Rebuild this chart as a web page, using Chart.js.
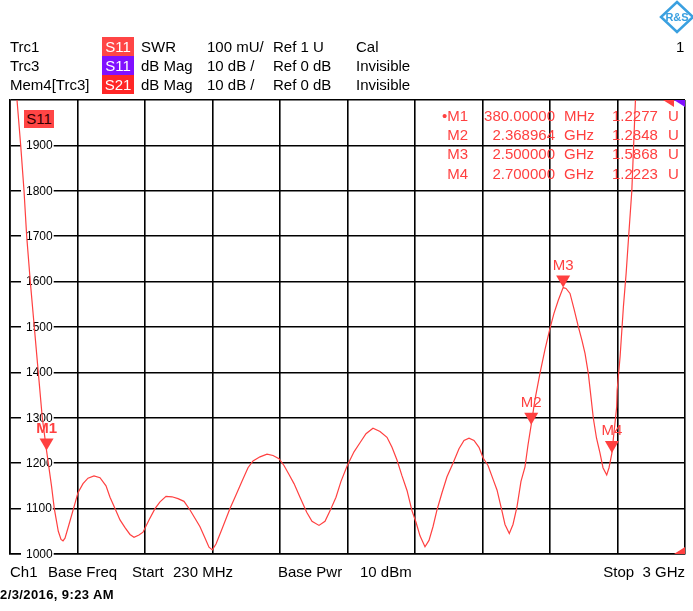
<!DOCTYPE html>
<html>
<head>
<meta charset="utf-8">
<script src="https://cdn.jsdelivr.net/npm/chart.js@4.4.1/dist/chart.umd.min.js"></script>
<style>
  body { margin: 0; background: #fff; }
  #wrap { position: relative; width: 693px; height: 611px; overflow: hidden;
          font-family: "Liberation Sans", Arial, sans-serif; }
  #chart { position: absolute; left: 0; top: 0; }
  .t { position: absolute; white-space: pre; font-size: 15px; line-height: 19px; color: #000; }
  .badge { position: absolute; width: 32px; height: 19px; line-height: 19px; color: #fff;
           font-size: 15px; text-align: center; }
  .mk { color: #ff4040; }
  .r { text-align: right; }
</style>
</head>
<body>
<div id="wrap">
  <canvas id="chart" width="693" height="611"></canvas>
  <div id="overlay"></div>
</div>
<script>
// trace: frequency (MHz) vs SWR (mU)
const freqMHz = [230, 258.7, 273.9, 287.5, 298.5, 313.3, 329.7, 346.1, 362.5, 380, 387.2, 400.3, 411.8,
  428.2, 439.3, 447.5, 455.7, 472.1, 490.6, 509, 529.6, 550, 574.7, 599.3, 624, 640.4, 660.9, 681.4,
  702, 722.4, 738.9, 759.4, 775.8, 800.4, 825, 845.6, 870.2, 894.8, 919.4, 944, 968.7, 993.3, 1009.7,
  1030.2, 1046.6, 1060.2, 1075.4, 1100, 1132.8, 1157.4, 1182, 1206.7, 1227.2, 1256, 1284.7, 1309.3,
  1333.9, 1354.4, 1375, 1395.5, 1420.1, 1447.6, 1469.3, 1498, 1522.7, 1543.2, 1567.8, 1588.3, 1614.2,
  1641.7, 1666.3, 1690.9, 1719.6, 1748.4, 1777.1, 1797.6, 1818.1, 1838.7, 1859.2, 1879.7, 1896.1,
  1912.5, 1933, 1949.4, 1965.8, 1982.2, 2002.8, 2023.3, 2047.9, 2072.5, 2093.1, 2113.6, 2134.1,
  2154.6, 2171.1, 2191.6, 2212.1, 2228.5, 2247.8, 2261.3, 2279, 2294.1, 2310.5, 2326.9, 2343.4,
  2355.7, 2368.964, 2384.3, 2404.8, 2425.3, 2445.9, 2462.3, 2480, 2500, 2511.7, 2528.1, 2544.5,
  2562.2, 2577.4, 2589.7, 2603.2, 2614.3, 2623.8, 2636.9, 2651.2, 2663.5, 2678.7, 2688.2, 2700,
  2708, 2719.7, 2721.5, 2733.7, 2747.3, 2758.4, 2767.8, 2781.8, 2789.2, 2796.6, 2850, 3000];
const swrMU = [2210, 2000, 1900, 1800, 1700, 1600, 1500, 1400, 1300, 1227.7, 1200, 1150, 1100,
  1050, 1032, 1029, 1035, 1065, 1100, 1135, 1155, 1167, 1172, 1168, 1150, 1125, 1100, 1075,
  1058, 1043, 1037, 1042, 1048, 1075, 1100, 1115, 1127, 1126, 1122, 1116, 1097, 1075, 1060,
  1035, 1015, 1009, 1022, 1055, 1100, 1130, 1160, 1190, 1205, 1214, 1220, 1217,
  1210, 1195, 1175, 1155, 1125, 1092, 1072, 1063, 1072, 1095, 1125, 1160, 1195,
  1225, 1245, 1265, 1277, 1270, 1257, 1235, 1207, 1172, 1140, 1095, 1070,
  1040, 1016, 1030, 1060, 1097, 1135, 1170, 1200, 1232, 1250, 1255, 1250,
  1235, 1212, 1195, 1165, 1141, 1097, 1065, 1045, 1065, 1104, 1160, 1192,
  1240, 1284.8, 1340, 1398, 1450, 1497, 1530, 1559, 1586.8, 1585, 1574, 1540,
  1501, 1470, 1442, 1398, 1345, 1299, 1255, 1222, 1190, 1174, 1190, 1222.3,
  1265, 1324, 1360, 1435, 1545, 1618, 1692, 1800, 1900, 2000, 2500, 3200];

const markerNames = ["M1", "M2", "M3", "M4"];
const markerFreq = [380, 2368.964, 2500, 2700];
const markerSwr = [1.2277, 1.2848, 1.5868, 1.2223];

const yTickLabels = [1000, 1100, 1200, 1300, 1400, 1500, 1600, 1700, 1800, 1900];
const xStart = 230, xStop = 3000, xDivs = 10;

const headerRows = [
  ["Trc1", "S11", "#ff4545", "SWR", "100 mU/", "Ref 1 U", "Cal"],
  ["Trc3", "S11", "#8010ff", "dB Mag", "10 dB /", "Ref 0 dB", "Invisible"],
  ["Mem4[Trc3]", "S21", "#ff2626", "dB Mag", "10 dB /", "Ref 0 dB", "Invisible"]
];

const red = "#ff4040";
const ov = document.getElementById("overlay");
function put(txt, x, y, cls, extra) {
  const d = document.createElement("div");
  d.className = cls || "t";
  d.textContent = txt;
  d.style.left = x + "px";
  d.style.top = y + "px";
  if (extra) Object.assign(d.style, extra);
  ov.appendChild(d);
  return d;
}

// header block
const colX = [10, 141, 207, 273, 356];
headerRows.forEach((row, i) => {
  const y = 36.5 + i * 19;
  put(row[0], colX[0], y);
  put(row[1], 102, y, "badge", { background: row[2] });
  put(row[3], colX[1], y);
  put(row[4], colX[2], y);
  put(row[5], colX[3], y);
  put(row[6], colX[4], y);
});
put("1", 676, 36.5);

// marker table
markerNames.forEach((n, i) => {
  const y = 106 + i * 19.2;
  const f = markerFreq[i];
  const ftxt = f < 1000 ? f.toFixed(5) : (f / 1000).toFixed(6);
  const unit = f < 1000 ? "MHz" : "GHz";
  put((i === 0 ? "\u2022" : "") + n, 400, y, "t mk r", { width: "68px" });
  put(ftxt, 452, y, "t mk r", { width: "103px" });
  put(unit, 564, y, "t mk");
  put(markerSwr[i].toFixed(4), 612, y, "t mk");
  put("U", 668, y, "t mk");
});

// footer
put("Ch1", 10, 562);
put("Base Freq", 48, 562);
put("Start", 132, 562);
put("230 MHz", 173, 562);
put("Base Pwr", 278, 562);
put("10 dBm", 360, 562);
put("Stop  3 GHz", 585, 562, "t r", { width: "100px" });
put("2/3/2016, 9:23 AM", 0, 585, "t", { fontSize: "13px", fontWeight: "bold", letterSpacing: "0.4px" });

// S11 badge inside the grid
put("S11", 24, 109.5, "badge", { background: "#ff4545", color: "#300", width: "30px", height: "18px", lineHeight: "18px" });

// logo
const logo = document.createElementNS("http://www.w3.org/2000/svg", "svg");
logo.setAttribute("width", "40"); logo.setAttribute("height", "36");
logo.style.cssText = "position:absolute;left:657px;top:0px";
logo.innerHTML = '<path d="M20 2 L36 17 L20 32 L4 17 Z" fill="none" stroke="#3aa0e0" stroke-width="2.5"/>' +
  '<text x="20" y="21" text-anchor="middle" font-size="11" font-weight="bold" fill="#3aa0e0" font-family="Liberation Sans">R&amp;S</text>';
ov.appendChild(logo);

const yLabelPlugin = {
  id: "yLabels",
  beforeDatasetsDraw(chart) {
    const c = chart.ctx, a = chart.chartArea, ys = chart.scales.y;
    c.save();
    c.font = "12px 'Liberation Sans', Arial";
    c.textBaseline = "middle";
    yTickLabels.forEach(v => {
      const y = ys.getPixelForValue(v);
      const w = c.measureText(String(v)).width;
      c.fillStyle = "#fff";
      c.fillRect(a.left + 11, y - 3, w + 6, 6);
      c.fillStyle = "#000";
      c.fillText(String(v), a.left + 16, y + 0.5);
    });
    c.restore();
  }
};

const markerPlugin = {
  id: "markers",
  afterDatasetsDraw(chart) {
    const c = chart.ctx, a = chart.chartArea, xs = chart.scales.x, ys = chart.scales.y;
    c.save();
    c.fillStyle = red;
    markerNames.forEach((n, i) => {
      const x = xs.getPixelForValue(markerFreq[i]);
      const y = ys.getPixelForValue(markerSwr[i] * 1000);
      c.beginPath();
      c.moveTo(x - 7, y - 12);
      c.lineTo(x + 7, y - 12);
      c.lineTo(x, y);
      c.closePath();
      c.fill();
      c.font = i === 0 ? "bold 15px 'Liberation Sans', Arial" : "15px 'Liberation Sans', Arial";
      c.textAlign = "center";
      c.textBaseline = "middle";
      c.fillText(n, x, y - 22);
    });
    // trace indicators in the corners
    c.beginPath();
    c.moveTo(a.right - 22, a.top); c.lineTo(a.right - 11, a.top); c.lineTo(a.right - 11, a.top + 7);
    c.closePath(); c.fill();
    c.fillStyle = "#8010ff";
    c.beginPath();
    c.moveTo(a.right - 11, a.top); c.lineTo(a.right, a.top); c.lineTo(a.right, a.top + 7);
    c.closePath(); c.fill();
    c.fillStyle = red;
    c.beginPath();
    c.moveTo(a.right - 11, a.bottom); c.lineTo(a.right, a.bottom - 7); c.lineTo(a.right, a.bottom);
    c.closePath(); c.fill();
    c.restore();
  }
};

const gridOpts = { color: "#000", lineWidth: 1.6, drawTicks: false };
const borderOpts = { color: "#000", width: 1.6 };

new Chart(document.getElementById("chart"), {
  type: "line",
  data: {
    datasets: [{
      data: freqMHz.map((f, i) => ({ x: f, y: swrMU[i] })),
      borderColor: red,
      borderWidth: 1.2,
      pointRadius: 0,
      tension: 0
    }]
  },
  options: {
    responsive: false,
    animation: false,
    devicePixelRatio: 1,
    layout: { padding: { left: 10, top: 100, right: 8, bottom: 57 } },
    plugins: { legend: { display: false }, tooltip: { enabled: false } },
    scales: {
      x: {
        type: "linear", min: xStart, max: xStop,
        ticks: { display: false },
        afterBuildTicks: s => {
          const t = [];
          for (let i = 0; i <= xDivs; i++) t.push({ value: xStart + (xStop - xStart) * i / xDivs });
          s.ticks = t;
        },
        grid: gridOpts, border: borderOpts
      },
      y: {
        min: 1000, max: 2000,
        ticks: { display: false, stepSize: 100 },
        grid: gridOpts, border: borderOpts
      }
    }
  },
  plugins: [yLabelPlugin, markerPlugin]
});
</script>
</body>
</html>
